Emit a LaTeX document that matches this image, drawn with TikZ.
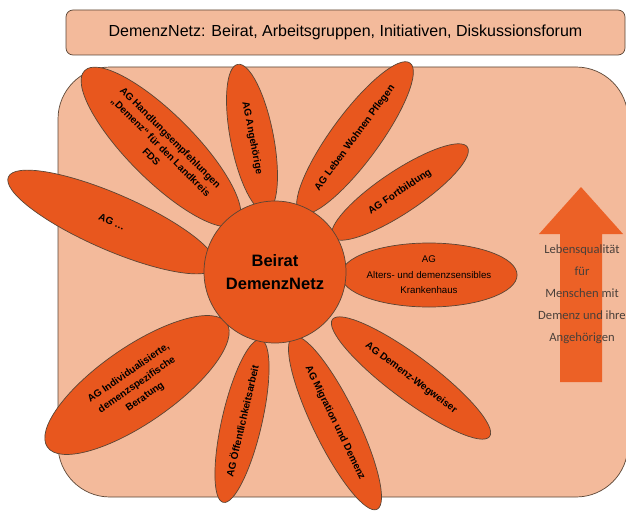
\documentclass[tikz,border=0pt]{standalone}
\usepackage{fontspec}
\setmainfont{Liberation Sans}
\newfontfamily\calibri{Carlito}
\usetikzlibrary{shapes.geometric}
\definecolor{peach}{HTML}{F3BA9B}
\definecolor{orng}{HTML}{E8571E}
\definecolor{arrowc}{HTML}{EC6126}
\definecolor{edgec}{HTML}{5A4535}
\definecolor{txtgrey}{HTML}{4A403A}
\begin{document}
\begin{tikzpicture}[x=1pt,y=-1pt,
  petal/.style={ellipse, draw=edgec, fill=orng, line width=0.7pt, inner sep=0pt,
    align=center, font=\bfseries\fontsize{10}{13.5}\selectfont, text=black},
  panelbox/.style={draw=edgec, fill=peach, line width=0.7pt, inner sep=0pt}]
\useasboundingbox (0,0) rectangle (626,511);
% title box
\node[panelbox, rounded corners=7pt, minimum width=559pt, minimum height=45pt,
  font=\fontsize{16}{19}\selectfont] (title) at (345.5,32.5)
  {DemenzNetz: Beirat, Arbeitsgruppen, Initiativen, Diskussionsforum};
% big panel
\node[panelbox, rounded corners=52pt, minimum width=570pt, minimum height=430pt] (panel) at (343,282) {};
% petals
\node[petal, minimum width=216pt, minimum height=66pt, rotate=-45] (p1) at (161,147)
  {AG Handlungsempfehlungen\\„Demenz“ für den Landkreis\\FDS};
\node[petal, minimum width=150pt, minimum height=43pt, rotate=-79] (p2) at (252,138) {AG Angehörige};
\node[petal, minimum width=186pt, minimum height=48pt, rotate=53.7] (p3) at (355,138) {AG Leben Wohnen Pflegen};
\node[petal, minimum width=162pt, minimum height=42pt, rotate=33.7] (p4) at (400,192) {AG Fortbildung};
\node[petal, minimum width=166pt, minimum height=64pt, font=\fontsize{9.7}{15.5}\selectfont] (p5) at (429,275)
  {AG\\Alters- und demenzsensibles\\Krankenhaus};
\node[petal, minimum width=196pt, minimum height=44pt, rotate=-36.7] (p6) at (411,378) {AG Demenz-Wegweiser};
\node[petal, minimum width=192pt, minimum height=44pt, rotate=-64] (p7) at (335,423) {AG Migration und Demenz};
\node[petal, minimum width=167pt, minimum height=40pt, rotate=77] (p8) at (242,421) {AG Öffentlichkeitsarbeit};
\node[petal, minimum width=218pt, minimum height=76pt, rotate=34.7, font=\bfseries\fontsize{10}{14.5}\selectfont] (p9) at (137,385)
  {AG Individualisierte,\\demenzspezifische\\Beratung};
\node[petal, minimum width=226pt, minimum height=56pt, rotate=-23.5] (p10) at (112,222) {AG …};
% hub
\node[circle, draw=edgec, fill=orng, line width=0.7pt, minimum size=142pt, inner sep=0pt, align=center,
  font=\bfseries\fontsize{16.5}{23}\selectfont] (hub) at (275,272) {Beirat\\DemenzNetz};
% arrow
\fill[arrowc] (560,382) -- (560,234) -- (539,234) -- (581,187) -- (623,234) -- (602,234) -- (602,382) -- cycle;
\node[align=center, text=txtgrey, font=\calibri\fontsize{12.6}{22}\selectfont] (quality) at (582,294)
  {Lebensqualität\\für\\Menschen mit\\Demenz und ihre\\Angehörigen};
\end{tikzpicture}
\end{document}
